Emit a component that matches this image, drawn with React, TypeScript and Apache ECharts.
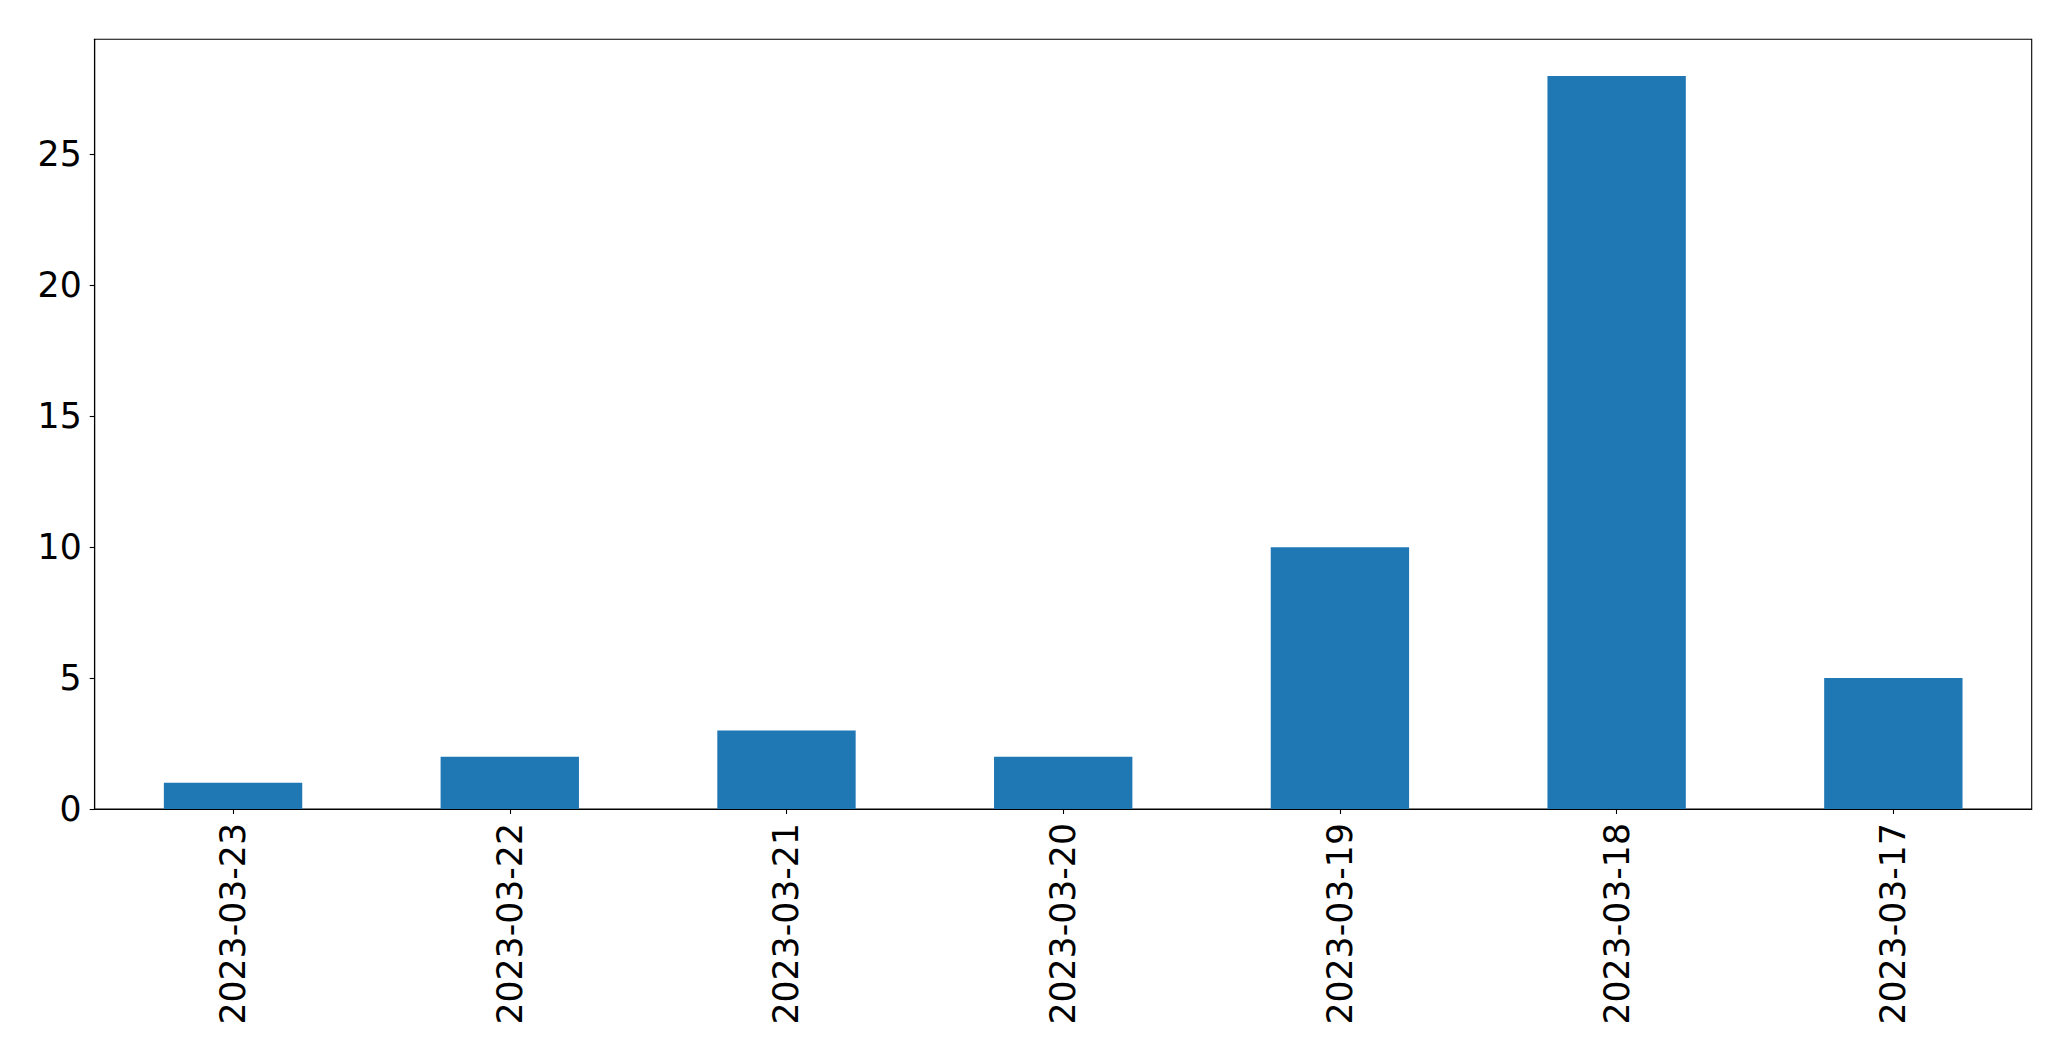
import React, { useEffect, useRef } from "react";
import * as echarts from "echarts";

const categories = ["2023-03-23", "2023-03-22", "2023-03-21", "2023-03-20", "2023-03-19", "2023-03-18", "2023-03-17"];
const values = [1, 2, 3, 2, 10, 28, 5];
const yTicks = [0, 5, 10, 15, 20, 25];

export default function App() {
  const ref = useRef<HTMLDivElement>(null);
  useEffect(() => {
    if (!ref.current) return;
    const chart = echarts.init(ref.current, null, { renderer: "svg" });
    const font = "DejaVu Sans";
    chart.setOption({
      animation: false,
      backgroundColor: "#ffffff",
      grid: {
        left: 94.7,
        top: 39.3,
        right: 39.3,
        bottom: 252,
        show: true,
        borderColor: "#000000",
        borderWidth: 1.1,
        backgroundColor: "transparent",
      },
      xAxis: {
        type: "category",
        data: categories,
        boundaryGap: true,
        axisLine: { show: true, lineStyle: { color: "#000000", width: 1.1 } },
        axisTick: { show: true, alignWithLabel: true, length: 5, lineStyle: { color: "#000000", width: 1.1 } },
        axisLabel: {
          rotate: 90,
          interval: 0,
          margin: 14,
          color: "#000000",
          fontFamily: font,
          fontSize: 34.7,
        },
        splitLine: { show: false },
      },
      yAxis: {
        type: "value",
        min: 0,
        max: 29.4,
        interval: 5,
        axisLine: { show: true, lineStyle: { color: "#000000", width: 1.1 } },
        axisTick: { show: true, length: 5, customValues: yTicks, lineStyle: { color: "#000000", width: 1.1 } },
        axisLabel: {
          customValues: yTicks,
          margin: 13,
          color: "#000000",
          fontFamily: font,
          fontSize: 34.7,
        },
        splitLine: { show: false },
      },
      series: [
        {
          type: "bar",
          data: values,
          barWidth: "50%",
          itemStyle: { color: "#1f77b4" },
        },
      ],
    });
    return () => chart.dispose();
  }, []);
  return (
    <div
      ref={ref}
      style={{ position: "fixed", left: 0, top: 0, width: 2071, height: 1061, background: "#ffffff" }}
    />
  );
}
